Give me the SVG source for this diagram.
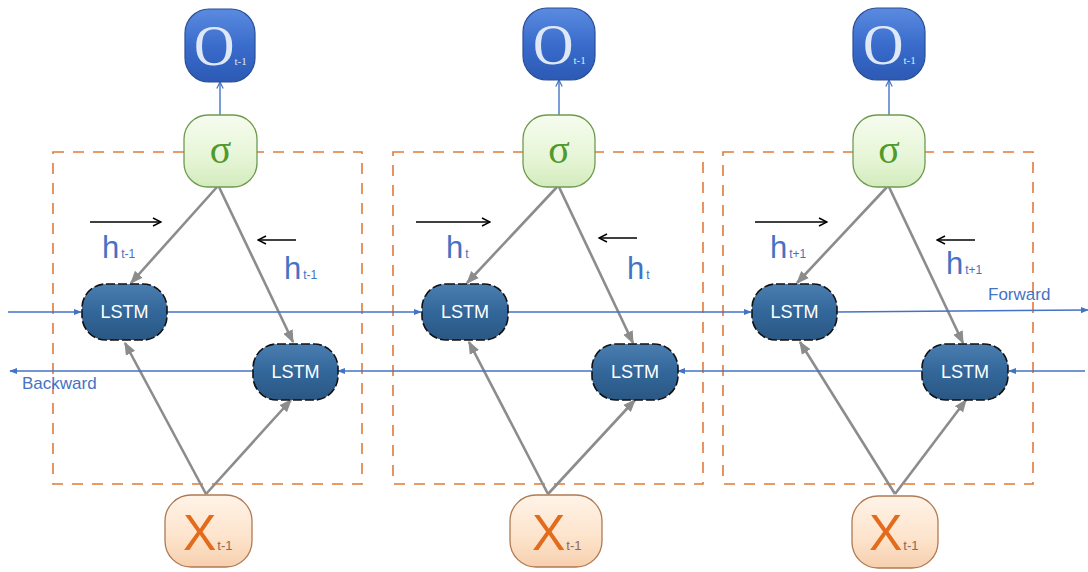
<svg xmlns="http://www.w3.org/2000/svg" width="1088" height="572" viewBox="0 0 1088 572">
<defs>
<linearGradient id="gO" x1="0" y1="0" x2="0" y2="1"><stop offset="0" stop-color="#5b8be0"/><stop offset="0.5" stop-color="#3a6ccc"/><stop offset="1" stop-color="#2c5ab4"/></linearGradient>
<linearGradient id="gS" x1="0" y1="0" x2="0" y2="1"><stop offset="0" stop-color="#f6fcef"/><stop offset="0.6" stop-color="#e6f5d6"/><stop offset="1" stop-color="#d3ebbd"/></linearGradient>
<linearGradient id="gX" x1="0" y1="0" x2="0" y2="1"><stop offset="0" stop-color="#fff3e8"/><stop offset="0.6" stop-color="#fde3cb"/><stop offset="1" stop-color="#f6cfae"/></linearGradient>
<linearGradient id="gL" x1="0" y1="0" x2="0" y2="1"><stop offset="0" stop-color="#4a7db0"/><stop offset="0.5" stop-color="#33679a"/><stop offset="1" stop-color="#2a5783"/></linearGradient>
<marker id="aB" viewBox="0 0 10 10" refX="9" refY="5" markerWidth="8" markerHeight="8" orient="auto" markerUnits="userSpaceOnUse"><path d="M0,1 L10,5 L0,9 z" fill="#4472c4"/></marker>
<marker id="aBo" viewBox="0 0 10 10" refX="9" refY="5" markerWidth="8" markerHeight="8" orient="auto" markerUnits="userSpaceOnUse"><path d="M1,1 L9,5 L1,9" fill="none" stroke="#4472c4" stroke-width="1.5"/></marker>
<marker id="aG" viewBox="0 0 10 10" refX="9" refY="5" markerWidth="13" markerHeight="13" orient="auto" markerUnits="userSpaceOnUse"><path d="M0,1 L10,5 L0,9 z" fill="#8c8c8c"/></marker>
<marker id="aK" viewBox="0 0 10 10" refX="9" refY="5" markerWidth="10" markerHeight="10" orient="auto" markerUnits="userSpaceOnUse"><path d="M1,1 L9,5 L1,9" fill="none" stroke="#000" stroke-width="1.4"/></marker>
</defs>
<style>
.cell{fill:none;stroke:#e07b39;stroke-width:1.6;stroke-dasharray:11 9}
.o{fill:url(#gO);stroke:#2a4f96;stroke-width:1.2}
.s{fill:url(#gS);stroke:#6f9a4e;stroke-width:1.3}
.x{fill:url(#gX);stroke:#b07a52;stroke-width:1.3}
.l{fill:url(#gL);stroke:#111;stroke-width:1.6;stroke-dasharray:9 3}
.ot{font-family:"Liberation Serif",serif;font-size:56px;fill:#dfe8f7}
.os{font-family:"Liberation Serif",serif;font-size:11px;fill:#dfe8f7}
.st{font-family:"Liberation Serif",serif;font-size:40px;fill:#4f9a2c}
.xt{font-family:"Liberation Sans",sans-serif;font-size:50px;fill:#e26b1c}
.xs{font-family:"Liberation Sans",sans-serif;font-size:13px;fill:#8d6a55}
.lt{font-family:"Liberation Sans",sans-serif;font-size:18px;fill:#fff}
.ht{font-family:"Liberation Sans",sans-serif;font-size:31px;fill:#4472c4}
.hs{font-family:"Liberation Sans",sans-serif;font-size:12px;fill:#4472c4}
.lab{font-family:"Liberation Sans",sans-serif;font-size:17px;fill:#4472c4}
.g{stroke:#8c8c8c;stroke-width:2.6;fill:none;marker-end:url(#aG)}
.b{stroke:#4472c4;stroke-width:1.6;fill:none;marker-end:url(#aB)}
.bo{stroke:#4472c4;stroke-width:1.4;fill:none;marker-end:url(#aBo)}
.k{stroke:#000;stroke-width:1.6;fill:none;marker-end:url(#aK)}
</style>

<g id="cells">
<rect class="cell" x="53" y="152" width="309" height="332"/>
<rect class="cell" x="393" y="152" width="310" height="332"/>
<rect class="cell" x="723" y="152" width="310" height="332"/>
</g>

<g id="connectors">
<line class="bo" x1="220" y1="115" x2="220" y2="82"/>
<line class="bo" x1="559" y1="115" x2="559" y2="80"/>
<line class="bo" x1="889" y1="115" x2="889" y2="80"/>
<line class="g" x1="217" y1="187" x2="131" y2="283"/>
<line class="g" x1="219" y1="187" x2="293" y2="342"/>
<line class="g" x1="557" y1="187" x2="467" y2="283"/>
<line class="g" x1="559" y1="187" x2="633" y2="343"/>
<line class="g" x1="887" y1="187" x2="797" y2="283"/>
<line class="g" x1="889" y1="187" x2="963" y2="343"/>
<line class="g" x1="206" y1="494" x2="125" y2="343"/>
<line class="g" x1="206" y1="494" x2="291" y2="400"/>
<line class="g" x1="548" y1="494" x2="469" y2="342"/>
<line class="g" x1="548" y1="494" x2="635" y2="400"/>
<line class="g" x1="895" y1="494" x2="800" y2="342"/>
<line class="g" x1="895" y1="494" x2="966" y2="400"/>
<line class="b" x1="8" y1="312" x2="81" y2="312"/>
<line class="b" x1="167" y1="312" x2="421" y2="312"/>
<line class="b" x1="508" y1="312" x2="751" y2="312"/>
<line class="b" x1="837" y1="312" x2="1088" y2="310"/>
<line class="b" x1="1085" y1="371" x2="1009" y2="371"/>
<line class="b" x1="922" y1="371" x2="678" y2="371"/>
<line class="b" x1="592" y1="371" x2="338" y2="371"/>
<line class="b" x1="253" y1="371" x2="10" y2="371"/>
<line class="k" x1="90" y1="222" x2="161" y2="222"/>
<line class="k" x1="296" y1="240" x2="258" y2="240"/>
<line class="k" x1="416" y1="222" x2="490" y2="222"/>
<line class="k" x1="637" y1="238" x2="599" y2="238"/>
<line class="k" x1="755" y1="222" x2="827" y2="222"/>
<line class="k" x1="975" y1="240" x2="937" y2="240"/>
</g>

<g id="labels">
<text class="ht" x="102" y="258">h<tspan class="hs" dx="2">t-1</tspan></text>
<text class="ht" x="284" y="279">h<tspan class="hs" dx="2">t-1</tspan></text>
<text class="ht" x="446" y="258">h<tspan class="hs" dx="2">t</tspan></text>
<text class="ht" x="627" y="279">h<tspan class="hs" dx="2">t</tspan></text>
<text class="ht" x="770" y="258">h<tspan class="hs" dx="2">t+1</tspan></text>
<text class="ht" x="946" y="274">h<tspan class="hs" dx="2">t+1</tspan></text>
<text class="lab" x="988" y="300">Forward</text>
<text class="lab" x="22" y="389">Backward</text>
</g>

<g id="O1"><rect class="o" x="185" y="9" width="70" height="73" rx="24"/><text class="ot" x="194" y="65">O<tspan class="os" dx="0">t-1</tspan></text></g>
<g id="O2"><rect class="o" x="523" y="8" width="72" height="72" rx="24"/><text class="ot" x="533" y="64">O<tspan class="os" dx="0">t-1</tspan></text></g>
<g id="O3"><rect class="o" x="853" y="8" width="72" height="72" rx="24"/><text class="ot" x="863" y="64">O<tspan class="os" dx="0">t-1</tspan></text></g>

<g id="S1"><rect class="s" x="184" y="115" width="73" height="72" rx="24"/><text class="st" x="220.5" y="163" text-anchor="middle">σ</text></g>
<g id="S2"><rect class="s" x="523" y="115" width="72" height="72" rx="24"/><text class="st" x="559" y="163" text-anchor="middle">σ</text></g>
<g id="S3"><rect class="s" x="853" y="115" width="72" height="72" rx="24"/><text class="st" x="889" y="163" text-anchor="middle">σ</text></g>

<g id="LF1"><rect class="l" x="82" y="284" width="85" height="56" rx="24"/><text class="lt" x="124.5" y="318" text-anchor="middle">LSTM</text></g>
<g id="LB1"><rect class="l" x="253" y="344" width="85" height="56" rx="24"/><text class="lt" x="295.5" y="378" text-anchor="middle">LSTM</text></g>
<g id="LF2"><rect class="l" x="422" y="284" width="86" height="56" rx="24"/><text class="lt" x="465" y="318" text-anchor="middle">LSTM</text></g>
<g id="LB2"><rect class="l" x="592" y="344" width="86" height="56" rx="24"/><text class="lt" x="635" y="378" text-anchor="middle">LSTM</text></g>
<g id="LF3"><rect class="l" x="752" y="284" width="85" height="56" rx="24"/><text class="lt" x="794.5" y="318" text-anchor="middle">LSTM</text></g>
<g id="LB3"><rect class="l" x="922" y="344" width="86" height="56" rx="24"/><text class="lt" x="965" y="378" text-anchor="middle">LSTM</text></g>

<g id="X1"><rect class="x" x="165" y="495" width="87" height="72" rx="26"/><text class="xt" x="183" y="550">X<tspan class="xs" dx="1">t-1</tspan></text></g>
<g id="X2"><rect class="x" x="510" y="495" width="92" height="72" rx="26"/><text class="xt" x="532" y="550">X<tspan class="xs" dx="1">t-1</tspan></text></g>
<g id="X3"><rect class="x" x="852" y="496" width="86" height="72" rx="26"/><text class="xt" x="869" y="550">X<tspan class="xs" dx="1">t-1</tspan></text></g>
</svg>
